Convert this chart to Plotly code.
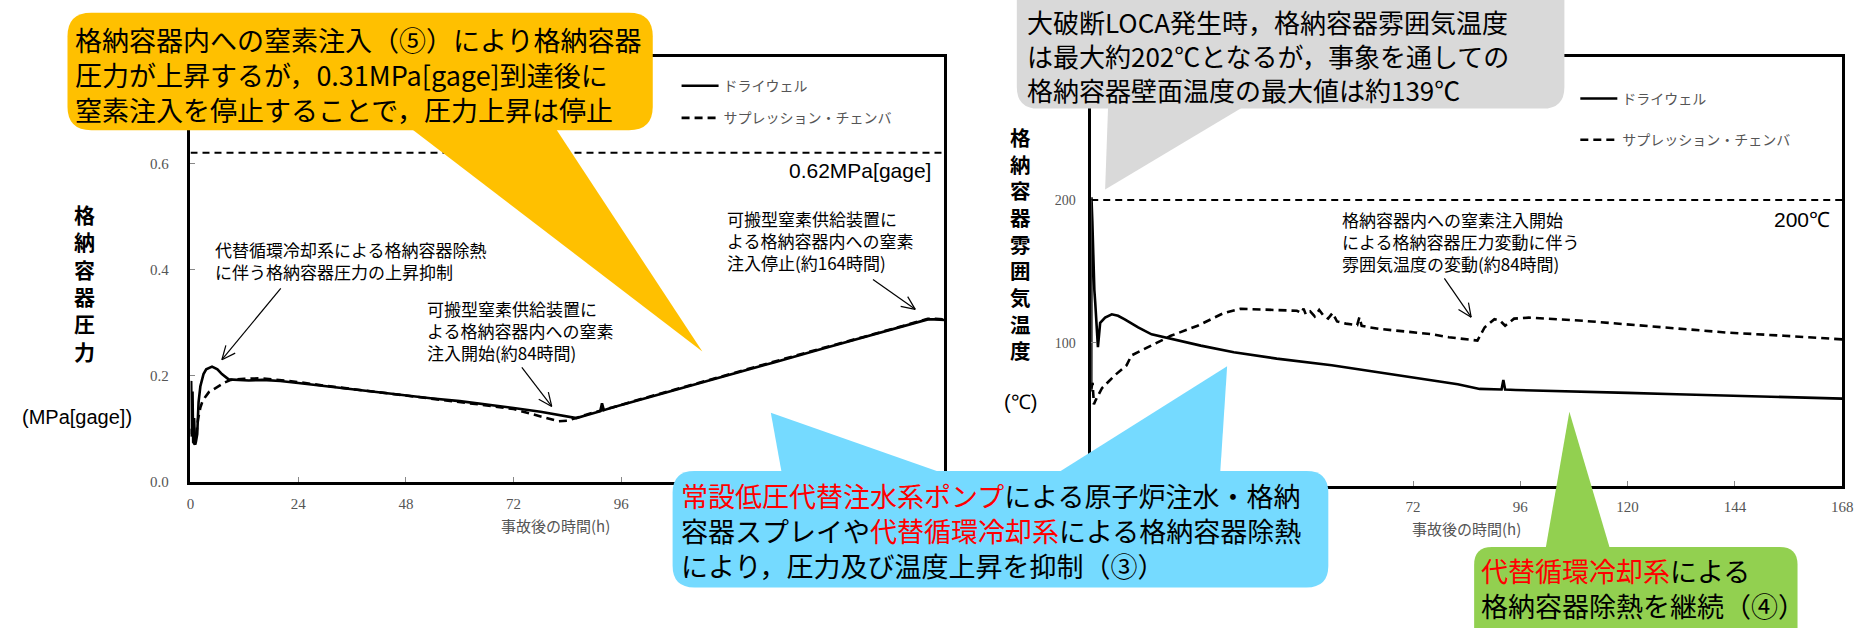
import math
import plotly.graph_objects as go

# ---------------- data ----------------
series_names = ["ドライウェル", "サプレッション・チェンバ"]

# 格納容器圧力 [MPa(gage)] - ドライウェル
time_p_dw = [0, 0.15, 0.3, 0.45, 0.6, 0.8, 1.0, 1.2, 1.5, 1.8,
             2.2, 2.9, 3.5, 4.8, 6.0, 7.0, 8.5, 10, 13, 16,
             20, 24, 30, 36, 42, 48, 54, 60, 66, 72,
             78, 84, 86, 88, 90, 91.3, 91.7, 92.1, 94, 100,
             110, 120, 130, 140, 150, 160, 164.3, 166, 168]
pres_dw = [0.185, 0.19, 0.09, 0.17, 0.075, 0.12, 0.07, 0.075, 0.09, 0.15,
           0.18, 0.203, 0.212, 0.217, 0.212, 0.203, 0.193, 0.192, 0.191, 0.192,
           0.19, 0.186, 0.18, 0.174, 0.168, 0.163, 0.157, 0.152, 0.146, 0.139,
           0.132, 0.124, 0.120, 0.125, 0.130, 0.133, 0.148, 0.135, 0.140, 0.154,
           0.178, 0.201, 0.225, 0.249, 0.272, 0.296, 0.306, 0.306, 0.305]

# 格納容器圧力 [MPa(gage)] - サプレッション・チェンバ
time_p_sc = [0, 0.3, 0.6, 1.0, 1.3, 1.7, 2.2, 2.6, 3.3, 4.1,
             5.5, 7.6, 9, 12, 16, 20, 24, 30, 36, 42,
             48, 54, 60, 66, 72, 76, 80, 82, 84, 86,
             88, 90, 94, 100, 110, 120, 130, 140, 150, 160,
             164.3, 166, 168]
pres_sc = [0.10, 0.08, 0.075, 0.07, 0.09, 0.119, 0.14, 0.15, 0.16, 0.169,
           0.176, 0.187, 0.192, 0.194, 0.195, 0.192, 0.188, 0.181, 0.175, 0.169,
           0.163, 0.157, 0.151, 0.144, 0.137, 0.128, 0.118, 0.114, 0.115, 0.121,
           0.126, 0.131, 0.140, 0.155, 0.179, 0.202, 0.226, 0.250, 0.273, 0.297,
           0.307, 0.307, 0.306]

# 格納容器雰囲気温度 [℃] - ドライウェル
time_t_dw = [0, 0.05, 0.25, 0.5, 0.7, 0.9, 1.2, 1.5, 2.0, 3.1,
             4.6, 6.0, 7.5, 10.5, 13.5, 17.9, 24.5, 31.9, 41.5, 53.8,
             65, 75.8, 82, 86.9, 90, 91.8, 92.2, 92.6, 95, 100,
             109, 120, 131, 145, 160, 168]
temp_dw = [66, 202, 185, 150, 137, 128, 110, 97, 114, 117.7,
           120, 119, 116.5, 110.8, 106, 102.8, 98.1, 93.5, 89, 84.3,
           79, 74, 71, 67.8, 67.5, 67.4, 74, 67.3, 67, 66.5,
           66, 65, 64.1, 63, 62, 61]

# 格納容器雰囲気温度 [℃] - サプレッション・チェンバ
time_t_sc = [0, 0.3, 0.6, 1.0, 2.4, 5.3, 7.9, 9.0, 13.4, 17.8,
             23.8, 29.7, 33.4, 40, 44, 46, 47, 47.5, 48, 49,
             50, 51, 52, 53, 54, 55, 56, 57, 59.5, 60,
             60.5, 62, 64.8, 70, 75.9, 80, 86.4, 88, 90.2, 91.5,
             92.6, 94.6, 97.9, 110, 120, 130, 142, 155, 166.3, 168]
temp_sc = [68, 72, 57, 60, 68.3, 77.4, 84.3, 91.2, 98.1, 105,
           112, 121, 123.9, 123.4, 123, 122.5, 121, 124, 120, 122,
           118.5, 123, 119, 117, 121, 115, 114.2, 113.5, 112.5, 118,
           112, 111, 109.7, 108, 106.2, 104, 101.6, 110.8, 116.6, 115.5,
           112, 117, 117.7, 115.5, 113, 110.5, 107.3, 105, 102.8, 102.5]

x_ticks = [0, 24, 48, 72, 96, 120, 144, 168]
# labels hidden under the callout boxes in the reference are left blank
x_ticktext_left = ["0", "24", "48", "72", "96", "", "", ""]
x_ticktext_right = ["", "", "", "72", "96", "120", "144", "168"]
p_ticks = [0.0, 0.2, 0.4, 0.6, 0.8]
p_ticktext = ["0.0", "0.2", "0.4", "0.6", ""]
t_ticks = [0, 100, 200, 300]
t_ticktext = ["", "100", "200", ""]
p_limit = 0.62
t_limit = 200
p_limit_label = "0.62MPa[gage]"
t_limit_label = "200℃"

# ---------------- geometry / helpers ----------------
W, H = 1874, 628
JP = "Noto Sans CJK JP"
SERIF = "Liberation Serif"
SANS = "Liberation Sans"

LAX = dict(x0=188, x1=948, y0=488, y1=58, xmax=168, ymax=0.8)
RAX = dict(x0=1096, x1=1853, y0=492, y1=58, xmax=168, ymax=300)


def px(x):
    return x / W


def py(y):
    return 1 - y / H


def data_to_pix(ax, xv, yv):
    return (ax["x0"] + (ax["x1"] - ax["x0"]) * xv / ax["xmax"],
            ax["y0"] - (ax["y0"] - ax["y1"]) * yv / ax["ymax"])


fig = go.Figure()

dash_style = "8px,5px"
for xs, ys, nm, dash, xa, ya, lg, grp in [
    (time_p_dw, pres_dw, series_names[0], "solid", "x", "y", "legend", "a"),
    (time_p_sc, pres_sc, series_names[1], dash_style, "x", "y", "legend", "b"),
    (time_t_dw, temp_dw, series_names[0], "solid", "x2", "y2", "legend2", "c"),
    (time_t_sc, temp_sc, series_names[1], dash_style, "x2", "y2", "legend2", "d"),
]:
    fig.add_trace(go.Scatter(
        x=xs, y=ys, mode="lines", name=nm, xaxis=xa, yaxis=ya,
        legend=lg, legendgroup=grp,
        line=dict(color="black", width=2.6, dash=dash),
        hoverinfo="skip"))

axis_common = dict(
    showline=True, linecolor="black", linewidth=2.5, mirror=True,
    showgrid=False, zeroline=False, ticks="inside", ticklen=5,
    tickcolor="#888", tickwidth=1,
    tickfont=dict(family=SERIF, size=15, color="#555"),
)

fig.update_layout(
    width=W, height=H,
    margin=dict(l=0, r=0, t=0, b=0),
    paper_bgcolor="white", plot_bgcolor="white",
    showlegend=True,
    xaxis=dict(domain=[px(LAX["x0"]), px(LAX["x1"])], range=[0, 168],
               tickvals=x_ticks, ticktext=x_ticktext_left, anchor="y",
               ticklabelstandoff=6, **axis_common),
    yaxis=dict(domain=[py(LAX["y0"]), py(LAX["y1"])], range=[0, 0.8],
               tickvals=p_ticks, ticktext=p_ticktext, anchor="x",
               ticklabelstandoff=16, **axis_common),
    xaxis2=dict(domain=[px(RAX["x0"]), px(RAX["x1"])], range=[0, 168],
                tickvals=x_ticks, ticktext=x_ticktext_right, anchor="y2",
                ticklabelstandoff=6, **axis_common),
    yaxis2=dict(domain=[py(RAX["y0"]), py(RAX["y1"])], range=[0, 300],
                tickvals=t_ticks, ticktext=t_ticktext, anchor="x2", ticklabelstandoff=10,
                **{**axis_common, "tickfont": dict(family=SERIF, size=14, color="#555")}),
    legend=dict(x=px(678), y=py(71), xanchor="left", yanchor="top",
                font=dict(family=JP, size=14, color="#555"),
                bgcolor="rgba(0,0,0,0)", tracegroupgap=11, itemwidth=37,
                traceorder="grouped"),
    legend2=dict(x=px(1584), y=py(84), xanchor="left", yanchor="top",
                 font=dict(family=JP, size=14, color="#555"),
                 bgcolor="rgba(0,0,0,0)", tracegroupgap=20, itemwidth=37,
                 traceorder="grouped"),
)

# limit lines
fig.add_shape(type="line", xref="x", yref="y", x0=0, x1=168, y0=p_limit, y1=p_limit,
              line=dict(color="black", width=2, dash="7px,5px"))
fig.add_shape(type="line", xref="x2", yref="y2", x0=0, x1=168, y0=t_limit, y1=t_limit,
              line=dict(color="black", width=2, dash="7px,5px"))


def text(x, y, s, size, color="black", family=JP, anchor="left", weight="normal"):
    if isinstance(s, (list, tuple)):
        s = "<br>".join(s)
    fig.add_annotation(x=px(x), y=py(y), xref="paper", yref="paper", text=s,
                       showarrow=False, xanchor=anchor, yanchor="middle",
                       align="center" if anchor == "center" else anchor,
                       font=dict(family=family, size=size, color=color, weight=weight))


text(936, 173, p_limit_label, 21, family=SANS, anchor="right")
text(1843, 222, t_limit_label, 21, family=SANS, anchor="right")

# axis titles (stacked vertical characters)
text(81, 218 + 2.5 * 27.4, list("格納容器圧力"), 21, anchor="center", weight="bold")
text(74, 422, "(MPa[gage])", 20, family=SANS, anchor="center")
text(1025, 140 + 4 * 26.6, list("格納容器雰囲気温度"), 20.5, anchor="center", weight="bold")
text(1025, 407, "(℃)", 20, family=SANS, anchor="center")
text(556, 532, "事故後の時間(h)", 15, color="#555", anchor="center")
text(1474, 535, "事故後の時間(h)", 15, color="#555", anchor="center")

# in-plot explanatory notes (left x, centre y)
notes = [
    (211, 264, ["代替循環冷却系による格納容器除熱", "に伴う格納容器圧力の上昇抑制"]),
    (424, 335, ["可搬型窒素供給装置に", "よる格納容器内への窒素", "注入開始(約84時間)"]),
    (727, 244, ["可搬型窒素供給装置に", "よる格納容器内への窒素", "注入停止(約164時間)"]),
    (1347, 245, ["格納容器内への窒素注入開始", "による格納容器圧力変動に伴う", "雰囲気温度の変動(約84時間)"]),
]
for x, y, lines in notes:
    text(x, y, lines, 17)

# arrows (tail -> tip, pixel positions)
arrows = [((279, 292), data_to_pix(LAX, 7.0, 0.230)),
          ((522, 372), data_to_pix(LAX, 80.5, 0.142)),
          ((876, 283), data_to_pix(LAX, 161.5, 0.325)),
          ((1452, 282), data_to_pix(RAX, 85.0, 118.0))]
for (tx, ty), (hx, hy) in arrows:
    fig.add_shape(type="line", xref="paper", yref="paper",
                  x0=px(tx), y0=py(ty), x1=px(hx), y1=py(hy),
                  line=dict(color="black", width=1.2))
    d = math.hypot(hx - tx, hy - ty)
    bx, by = (tx - hx) / d, (ty - hy) / d
    for sgn in (1, -1):
        a = math.radians(24) * sgn
        rx = bx * math.cos(a) - by * math.sin(a)
        ry = bx * math.sin(a) + by * math.cos(a)
        fig.add_shape(type="line", xref="paper", yref="paper",
                      x0=px(hx), y0=py(hy), x1=px(hx + 15 * rx), y1=py(hy + 15 * ry),
                      line=dict(color="black", width=1.2))


def rrect(x0, y0, x1, y1, r):
    P = lambda x, y: f"{px(x):.6f},{py(y):.6f}"
    return (f"M {P(x0 + r, y0)} L {P(x1 - r, y0)} Q {P(x1, y0)} {P(x1, y0 + r)} "
            f"L {P(x1, y1 - r)} Q {P(x1, y1)} {P(x1 - r, y1)} L {P(x0 + r, y1)} "
            f"Q {P(x0, y1)} {P(x0, y1 - r)} L {P(x0, y0 + r)} Q {P(x0, y0)} {P(x0 + r, y0)} Z")


def tri(pts):
    return "M " + " L ".join(f"{px(x):.6f},{py(y):.6f}" for x, y in pts) + " Z"


def callout(box, r, tails, color):
    for t in tails:
        fig.add_shape(type="path", xref="paper", yref="paper", path=tri(t),
                      fillcolor=color, line=dict(width=0), layer="above")
    fig.add_shape(type="path", xref="paper", yref="paper", path=rrect(*box, r),
                  fillcolor=color, line=dict(width=0), layer="above")


ORANGE, GRAY, BLUE, GREEN = "#FFC000", "#D9D9D9", "#75DAFF", "#92D050"
callout((64, 13, 654, 132), 24, [[(410, 130), (556, 130), (704, 356)]], ORANGE)
callout((1021, -30, 1573, 110), 22, [[(1113, 108), (1250, 108), (1110, 192)]], GRAY)
callout((674, 477, 1335, 595), 22,
        [[(773, 418), (784, 479), (946, 479)], [(1062, 479), (1226, 479), (1233, 371)]], BLUE)
callout((1482, 554, 1808, 660), 18, [[(1554, 556), (1619, 556), (1578, 417)]], GREEN)

RED = "#FF0000"
red = lambda s: f"<span style='color:{RED}'>{s}</span>"
CS = 27
text(70, 75, ["格納容器内への窒素注入（⑤）により格納容器",
              "圧力が上昇するが，0.31MPa[gage]到達後に",
              "窒素注入を停止することで，圧力上昇は停止"], CS)
text(1029, 56, ["大破断LOCA発生時，格納容器雰囲気温度",
                "は最大約202℃となるが，事象を通しての",
                "格納容器壁面温度の最大値は約139℃"], 26)
text(680, 537.5, [red("常設低圧代替注水系ポンプ") + "による原子炉注水・格納",
                  "容器スプレイや" + red("代替循環冷却系") + "による格納容器除熱",
                  "により，圧力及び温度上昇を抑制（③）"], CS)
text(1487, 595.5, [red("代替循環冷却系") + "による",
                   "格納容器除熱を継続（④）"], CS)

fig.write_html("out.html", config={"displayModeBar": False},
               post_script="document.body.style.margin='0';document.body.style.overflow='hidden';")
